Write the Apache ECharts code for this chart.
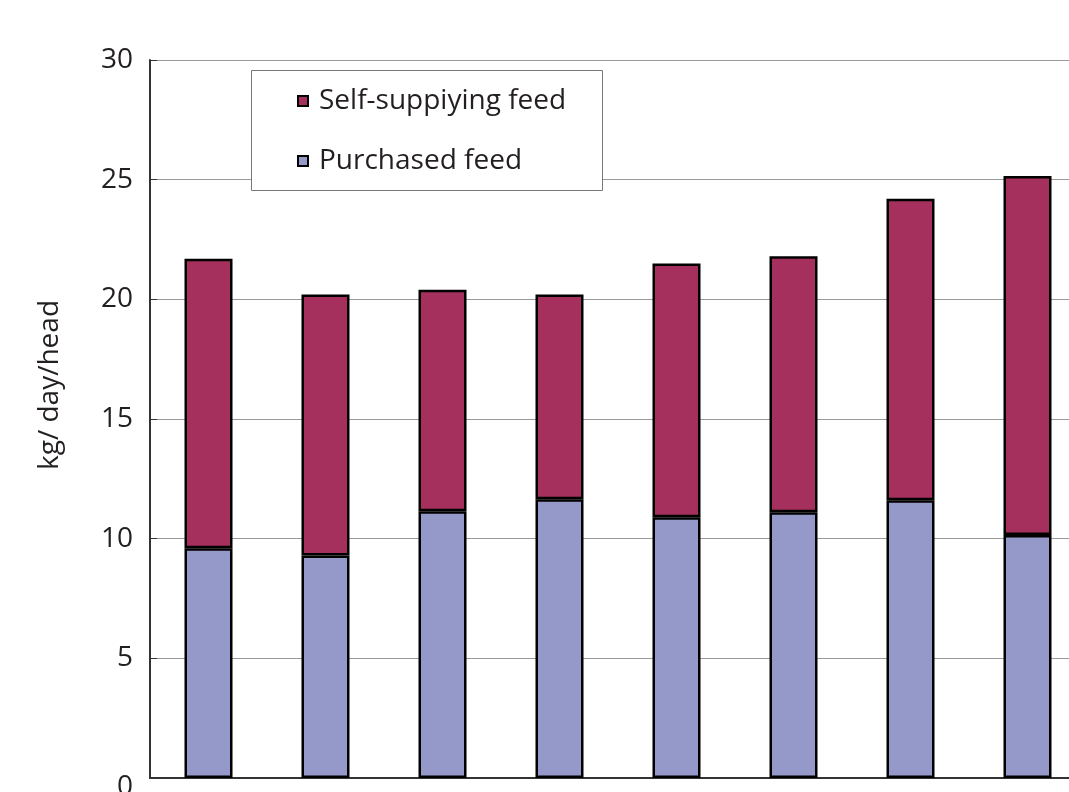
<!DOCTYPE html>
<html>
<head>
<meta charset="utf-8">
<script src="https://cdn.jsdelivr.net/npm/echarts@6/dist/echarts.min.js"></script>
<style>
html,body{margin:0;padding:0;background:#fff;}
#chartmain{width:1069px;height:792px;}
</style>
</head>
<body>
<div id="chartmain"></div>
<script>
var categories=['1','2','3','4','5','6','7','8'];
var purchased=[9.6,9.3,11.15,11.65,10.9,11.1,11.6,10.15];
var selfSupply=[12.1,10.9,9.25,8.55,10.6,10.7,12.6,15.0];
var seriesNames=['Self-suppiying feed','Purchased feed'];
var fontName='"Open Sans", "Noto Sans", sans-serif';

var myChart=echarts.init(document.getElementById("chartmain"));
var option={
	animation:false,
	textStyle:{fontFamily:fontName},
	grid:{left:150,width:936,top:60,bottom:14,containLabel:false,outerBoundsMode:'none'},
	legend:{
		orient:'vertical',
		left:292,top:81,
		z:20,
		itemGap:30,
		itemWidth:10,itemHeight:10,
		icon:'rect',
		itemStyle:{borderColor:'#000',borderWidth:2},
		data:seriesNames,
		textStyle:{fontSize:28,color:'#231f20',fontFamily:fontName,lineHeight:30,padding:[0,0,0,6]}
	},
	graphic:[{
		type:'rect',
		shape:{x:251.5,y:70.5,width:351,height:120},
		style:{fill:'#fff',stroke:'#777',lineWidth:1},
		z:2
	}],
	xAxis:[{
		type:'category',
		data:categories,
		axisLine:{lineStyle:{color:'#333',width:2}},
		axisTick:{inside:true,length:8,lineStyle:{color:'#666',width:1}},
		axisLabel:{show:false}
	}],
	yAxis:[{
		type:'value',
		min:0,max:30,interval:5,
		name:'kg/ day/head',
		nameLocation:'middle',
		nameRotate:90,
		nameGap:86,
		nameTextStyle:{fontSize:28,color:'#231f20',fontFamily:fontName,padding:[0,0,0,68]},
		axisLine:{show:true,lineStyle:{color:'#333',width:2}},
		axisTick:{show:true,inside:true,length:7,lineStyle:{color:'#333'}},
		axisLabel:{
			fontSize:28,color:'#231f20',margin:17,fontFamily:fontName,
			formatter:function(value){
				if(value===0) return '{z|0}';
				return value;
			},
			rich:{z:{fontSize:28,color:'#231f20',fontFamily:fontName,padding:[18,0,0,0]}}
		},
		splitLine:{lineStyle:{color:'#999',width:1}}
	}],
	series:[{
		name:'Purchased feed',
		type:'bar',
		stack:'total',
		barWidth:48,
		itemStyle:{color:'#9499ca',borderColor:'#000',borderWidth:2.5},
		z:10,
		data:purchased
	},{
		name:'Self-suppiying feed',
		type:'bar',
		stack:'total',
		barWidth:48,
		itemStyle:{color:'#a5305e',borderColor:'#000',borderWidth:2.5},
		z:10,
		data:selfSupply
	}]
};
myChart.setOption(option);
</script>
</body>
</html>
